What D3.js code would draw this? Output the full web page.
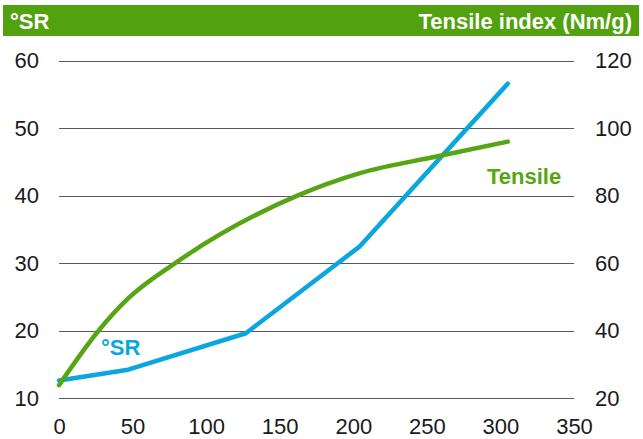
<!DOCTYPE html>
<html><head><meta charset="utf-8">
<script src="https://cdn.jsdelivr.net/npm/d3@7"></script>
<style>html,body{margin:0;padding:0;background:#fff;}svg{display:block;font-family:"Liberation Sans",Arial,sans-serif;}</style>
</head><body><div id="chart"></div>
<script>
// Data
const srX = [0, 47, 127, 204, 305];
const srValues = [12.6, 14.2, 19.6, 32.4, 56.6];
const tensileX = [0, 27, 47, 79, 162, 204, 259, 305];
const tensileValues = [23.8, 40, 49.5, 60, 80, 86.6, 91.8, 96];
const xTicks = [0, 50, 100, 150, 200, 250, 300, 350];
const leftTicks = [10, 20, 30, 40, 50, 60];
const rightTicks = [20, 40, 60, 80, 100, 120];

const W = 643, H = 439;
const FS = 22;
const svg = d3.select("#chart").append("svg").attr("width", W).attr("height", H);

const x = d3.scaleLinear().domain([0, 350]).range([59, 574]);
const yL = d3.scaleLinear().domain([10, 60]).range([398, 60.7]);
const yR = d3.scaleLinear().domain([20, 120]).range([398, 60.7]);

// header bar
svg.append("rect").attr("x", 3).attr("y", 5).attr("width", 636).attr("height", 31).attr("fill", "#52a10f");
svg.append("text").attr("x", 10).attr("y", 28.5).attr("fill", "#fff").attr("font-weight", "bold").attr("font-size", FS).text("°SR");
svg.append("text").attr("x", 632).attr("y", 28.5).attr("fill", "#fff").attr("font-weight", "bold").attr("font-size", FS).attr("text-anchor", "end").text("Tensile index (Nm/g)");

// gridlines
svg.append("g").selectAll("line").data(leftTicks).join("line")
  .attr("x1", x(0)).attr("x2", x(350))
  .attr("y1", d => Math.round(yL(d)) + 0.5).attr("y2", d => Math.round(yL(d)) + 0.5)
  .attr("stroke", "#595959").attr("stroke-width", 1.2);

function styleAxis(g) {
  g.select(".domain").remove();
  g.selectAll("text").attr("font-size", FS).attr("fill", "#1a1a1a").attr("font-family", "Liberation Sans, Arial, sans-serif");
}

// left axis
svg.append("g").attr("transform", `translate(${x(0)},0)`)
  .call(d3.axisLeft(yL).tickValues(leftTicks).tickSize(0).tickPadding(20)).call(styleAxis);

// right axis
svg.append("g").attr("transform", `translate(${x(350)},0)`)
  .call(d3.axisRight(yR).tickValues(rightTicks).tickSize(0).tickPadding(21)).call(styleAxis);

// bottom axis
svg.append("g").attr("transform", `translate(0,${yL(10)})`)
  .call(d3.axisBottom(x).tickValues(xTicks).tickSize(0).tickPadding(20)).call(styleAxis);

// lines
const srData = srX.map((d, i) => [d, srValues[i]]);
const tData = tensileX.map((d, i) => [d, tensileValues[i]]);

svg.append("path").datum(srData)
  .attr("d", d3.line().x(d => x(d[0])).y(d => yL(d[1])))
  .attr("fill", "none").attr("stroke", "#0aa6e0").attr("stroke-width", 4.5)
  .attr("stroke-linecap", "round").attr("stroke-linejoin", "round");

svg.append("path").datum(tData)
  .attr("d", d3.line().curve(d3.curveMonotoneX).x(d => x(d[0])).y(d => yR(d[1])))
  .attr("fill", "none").attr("stroke", "#56a513").attr("stroke-width", 4.5)
  .attr("stroke-linecap", "round");

// series labels
svg.append("text").attr("x", 101).attr("y", 355).attr("fill", "#0aa6e0").attr("font-weight", "bold").attr("font-size", FS).text("°SR");
svg.append("text").attr("x", 487).attr("y", 184).attr("fill", "#56a513").attr("font-weight", "bold").attr("font-size", FS).text("Tensile");
</script></body></html>
